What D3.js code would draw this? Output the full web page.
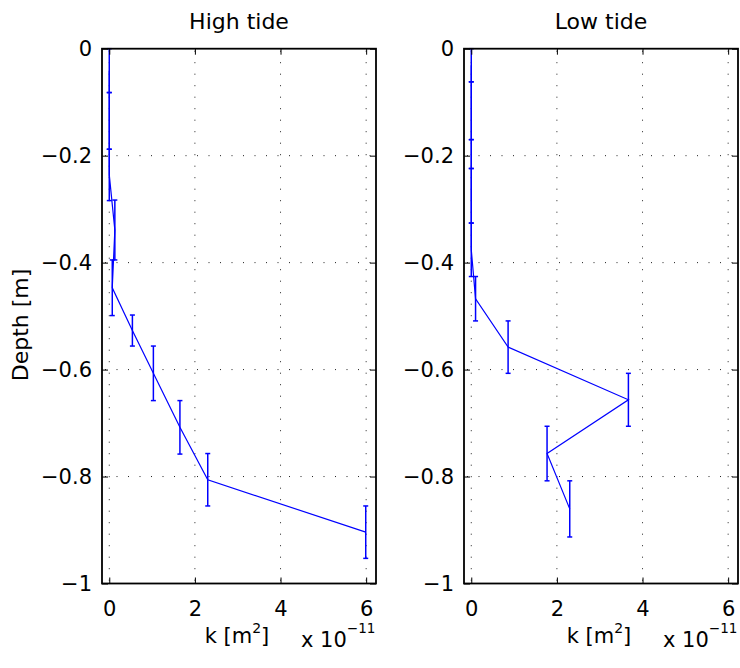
<!DOCTYPE html>
<html><head><meta charset="utf-8">
<script src="https://cdn.jsdelivr.net/npm/d3@7/dist/d3.min.js"></script>
<style>body{margin:0;background:#fff} svg{display:block}</style>
</head><body>
<svg id="chart" width="740" height="668"></svg>
<script>
// ---- data ----
const panelTitles = ["High tide", "Low tide"];
const xTicks = [0, 2, 4, 6];
const yTicks = [0, -0.2, -0.4, -0.6, -0.8, -1];
const yTickLabels = ["0", "\u22120.2", "\u22120.4", "\u22120.6", "\u22120.8", "\u22121"];
const xLabel = "k [m";
const yLabel = "Depth [m]";
const exponentText = "\u221211";

// High tide: permeability k (x 1e-11 m^2), depth (m), depth half-error (m)
const highK     = [0, 0, 0, 0.13, 0.07, 0.54, 1.03, 1.65, 2.30, 5.99];
const highDepth = [-0.041, -0.135, -0.236, -0.339, -0.447, -0.527, -0.607, -0.708, -0.806, -0.904];
const highErr   = [0.041, 0.053, 0.048, 0.056, 0.052, 0.029, 0.051, 0.050, 0.049, 0.049];

// Low tide
const lowK     = [0, 0, 0, 0, 0, 0.10, 0.86, 3.67, 1.77, 2.30];
const lowDepth = [-0.031, -0.116, -0.197, -0.275, -0.376, -0.4675, -0.558, -0.6565, -0.757, -0.8605];
const lowErr   = [0.031, 0.054, 0.027, 0.051, 0.050, 0.0415, 0.049, 0.0495, 0.051, 0.0525];

// ---- layout ----
const FONT = "DejaVu Sans, Liberation Sans, sans-serif";
const panels = [
  {left: 102, right: 376, k: highK, d: highDepth, e: highErr, title: panelTitles[0]},
  {left: 464, right: 738, k: lowK,  d: lowDepth,  e: lowErr,  title: panelTitles[1]}
];
const yTop = 48.7, yBottom = 583.5;
const svg = d3.select("#chart");
const blue = "#0000ff";

const y = d3.scaleLinear().domain([-1, 0]).range([yBottom, yTop]);

panels.forEach(p => {
  const x = d3.scaleLinear().domain([-0.17, 6.23]).range([p.left, p.right]);
  const g = svg.append("g");

  // grid (dotted)
  const grid = g.append("g").attr("stroke", "#222").attr("stroke-width", 1)
    .attr("stroke-dasharray", "1,10.5");
  xTicks.forEach(t => {
    grid.append("line").attr("x1", x(t)).attr("x2", x(t))
      .attr("y1", yTop + 2).attr("y2", yBottom);
  });
  yTicks.filter(t => t > -1 && t < 0).forEach(t => {
    grid.append("line").attr("x1", p.left + 3).attr("x2", p.right)
      .attr("y1", y(t)).attr("y2", y(t));
  });

  // data line
  const pts = p.k.map((k, i) => [k, p.d[i], p.e[i]]);
  g.append("path").datum(pts)
    .attr("fill", "none").attr("stroke", blue).attr("stroke-width", 1.2)
    .attr("d", d3.line().x(d => x(d[0])).y(d => y(d[1])));

  // error bars
  const eb = g.append("g").attr("stroke", blue).attr("stroke-width", 1.5).attr("fill", "none");
  pts.forEach(d => {
    const cx = x(d[0]), y1 = y(d[1] + d[2]), y2 = y(d[1] - d[2]);
    eb.append("line").attr("x1", cx).attr("x2", cx).attr("y1", y1).attr("y2", y2);
    eb.append("line").attr("x1", cx - 2.5).attr("x2", cx + 2.5).attr("y1", y1).attr("y2", y1);
    eb.append("line").attr("x1", cx - 2.5).attr("x2", cx + 2.5).attr("y1", y2).attr("y2", y2);
  });

  // axes
  const axL = d3.axisLeft(y).tickValues(yTicks).tickSize(-6).tickPadding(10)
    .tickFormat((d, i) => yTickLabels[i]);
  const axR = d3.axisRight(y).tickValues(yTicks).tickSize(-6).tickFormat("");
  const axB = d3.axisBottom(x).tickValues(xTicks).tickSize(-6).tickPadding(17.5)
    .tickFormat(d3.format("d"));
  const axT = d3.axisTop(x).tickValues(xTicks).tickSize(-6).tickFormat("");

  [[axL, `translate(${p.left},0)`], [axR, `translate(${p.right},0)`],
   [axB, `translate(0,${yBottom})`], [axT, `translate(0,${yTop})`]].forEach(([ax, tr]) => {
    const a = g.append("g").attr("transform", tr).call(ax);
    a.select(".domain").remove();
    a.selectAll(".tick line").attr("stroke", "#000").attr("stroke-width", 1);
    a.selectAll(".tick text").attr("font-family", FONT).attr("font-size", 21).attr("fill", "#000");
  });

  // frame
  g.append("rect").attr("x", p.left).attr("y", yTop)
    .attr("width", p.right - p.left).attr("height", yBottom - yTop)
    .attr("fill", "none").attr("stroke", "#000").attr("stroke-width", 1.8);

  const cx = (p.left + p.right) / 2;
  // title
  svg.append("text").attr("x", cx).attr("y", 28.5).attr("text-anchor", "middle")
    .attr("font-family", FONT).attr("font-size", 22).text(p.title);

  // x label with superscript
  const xl = svg.append("text").attr("x", cx - 2).attr("y", 643).attr("text-anchor", "middle")
    .attr("font-family", FONT).attr("font-size", 21);
  xl.append("tspan").text(xLabel);
  xl.append("tspan").attr("font-size", 14).attr("dy", -10).text("2");
  xl.append("tspan").attr("dy", 10).text("]");

  // exponent
  const ex = svg.append("text").attr("x", p.right - 75).attr("y", 647)
    .attr("font-family", FONT).attr("font-size", 21);
  ex.append("tspan").text("x 10");
  ex.append("tspan").attr("font-size", 13.5).attr("dy", -14).text(exponentText);
});

// y label
svg.append("text").attr("transform", "translate(28,325) rotate(-90)")
  .attr("text-anchor", "middle").attr("font-family", FONT).attr("font-size", 22)
  .text(yLabel);
</script>
</body></html>
